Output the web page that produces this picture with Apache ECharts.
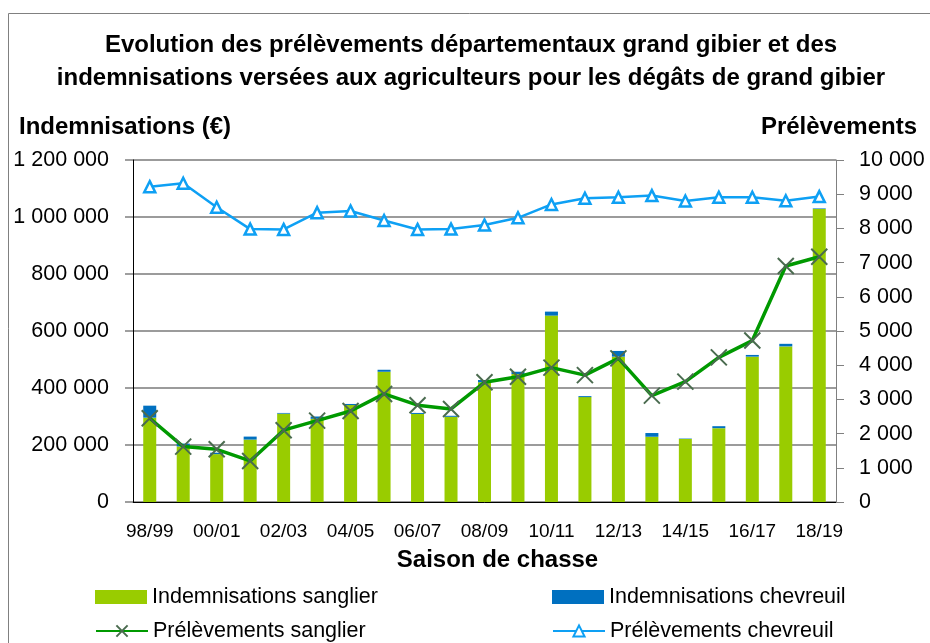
<!DOCTYPE html>
<html>
<head>
<meta charset="utf-8">
<script src="https://cdn.jsdelivr.net/npm/echarts@6/dist/echarts.min.js"></script>
<style>
  html, body { margin: 0; padding: 0; background: #fff; }
  #chart { width: 930px; height: 643px; }
</style>
</head>
<body>
<div id="chart"></div>
<script>
var seasons = ['98/99', '99/00', '00/01', '01/02', '02/03', '03/04', '04/05', '05/06', '06/07', '07/08',
  '08/09', '09/10', '10/11', '11/12', '12/13', '13/14', '14/15', '15/16', '16/17', '17/18', '18/19'];

var indemSanglier = [296000, 195000, 168000, 219000, 310000, 292000, 340000, 457000, 309000, 299000,
  420000, 449000, 654000, 368000, 510000, 229000, 221000, 259000, 510000, 546000, 1028000];
var indemChevreuil = [42000, 10000, 5000, 10500, 2500, 8000, 4000, 7000, 3500, 3500,
  8000, 8000, 14000, 3500, 20000, 13000, 1500, 7000, 6000, 9000, 2000];

var prelSanglier = [2450, 1620, 1540, 1200, 2100, 2380, 2660, 3160, 2830, 2720,
  3500, 3660, 3930, 3710, 4200, 3110, 3520, 4230, 4720, 6900, 7170];
var prelChevreuil = [9220, 9320, 8620, 7980, 7970, 8460, 8510, 8230, 7970, 7980,
  8100, 8310, 8700, 8880, 8910, 8960, 8800, 8910, 8910, 8810, 8930];

var font = "'Liberation Sans', Arial, sans-serif";

function spaced(v) {
  return String(v).replace(/\B(?=(\d{3})+(?!\d))/g, ' ');
}

// une légende par entrée, placées en grille 2 x 2
function legendAt(name, left, top, icon) {
  var lg = {
    left: left, top: top, padding: 0,
    itemWidth: 52, itemHeight: 14, itemGap: 0,
    textStyle: { fontFamily: font, fontSize: 21.5, color: '#000' },
    data: [name]
  };
  if (icon) lg.icon = icon;
  return lg;
}

var chart = echarts.init(document.getElementById('chart'));

var option = {
  animation: false,
  title: {
    text: 'Evolution des prélèvements départementaux grand gibier et des\nindemnisations versées aux agriculteurs pour les dégâts de grand gibier',
    left: 471,
    top: 29,
    padding: 0,
    textAlign: 'center',
    textStyle: { fontFamily: font, fontWeight: 'bold', fontSize: 24, lineHeight: 33, color: '#000' }
  },
  graphic: [
    { type: 'rect', shape: { x: 8.5, y: 13.5, width: 940, height: 650 }, style: { fill: 'none', stroke: '#808080', lineWidth: 1 } },
    { type: 'text', left: 19, top: 115, style: { text: 'Indemnisations (€)', font: 'bold 24px ' + font, fill: '#000' } },
    { type: 'text', right: 13, top: 115, style: { text: 'Prélèvements', font: 'bold 24px ' + font, fill: '#000' } }
  ],
  legend: [
    legendAt('Indemnisations sanglier', 95, 586, 'rect'),
    legendAt('Prélèvements sanglier', 95, 620),
    legendAt('Indemnisations chevreuil', 552, 586, 'rect'),
    legendAt('Prélèvements chevreuil', 552, 620)
  ],
  grid: { left: 133, right: 94, top: 160, bottom: 141 },
  xAxis: {
    type: 'category',
    data: seasons,
    name: 'Saison de chasse',
    nameLocation: 'middle',
    nameGap: 46,
    nameTextStyle: { fontFamily: font, fontWeight: 'bold', fontSize: 24, color: '#000', padding: [0, 0, 0, 26] },
    axisLine: { lineStyle: { color: '#000', width: 1 } },
    axisTick: { interval: 0, length: 7, lineStyle: { color: '#808080' } },
    axisLabel: { interval: 1, fontFamily: font, fontSize: 19, color: '#000', margin: 20 }
  },
  yAxis: [
    {
      type: 'value',
      min: 0, max: 1200000, interval: 200000,
      axisLine: { show: true, lineStyle: { color: '#000', width: 1 } },
      axisTick: { show: true, length: 8, lineStyle: { color: '#808080', width: 1.5 } },
      splitLine: { lineStyle: { color: '#7a7a7a', width: 1.5 } },
      axisLabel: { fontFamily: font, fontSize: 21.5, color: '#000', margin: 24, formatter: spaced }
    },
    {
      type: 'value',
      min: 0, max: 10000, interval: 1000,
      position: 'right',
      axisLine: { show: true, lineStyle: { color: '#808080', width: 1 } },
      axisTick: { show: true, length: 8, lineStyle: { color: '#808080', width: 1 } },
      splitLine: { show: false },
      axisLabel: { fontFamily: font, fontSize: 21.5, color: '#000', margin: 23, formatter: spaced }
    }
  ],
  series: [
    {
      name: 'Indemnisations sanglier', type: 'bar', stack: 'indem', barWidth: 13,
      itemStyle: { color: '#99cc00' },
      data: indemSanglier
    },
    {
      name: 'Indemnisations chevreuil', type: 'bar', stack: 'indem', barWidth: 13,
      itemStyle: { color: '#0070c0' },
      data: indemChevreuil
    },
    {
      name: 'Prélèvements sanglier', type: 'line', yAxisIndex: 1,
      symbol: 'path://M0,0L10,10M10,0L0,10', symbolSize: 16, showAllSymbol: true,
      lineStyle: { color: '#009900', width: 3.5 },
      itemStyle: { color: '#009900', borderColor: '#4a6b4f', borderWidth: 2 },
      data: prelSanglier
    },
    {
      name: 'Prélèvements chevreuil', type: 'line', yAxisIndex: 1,
      symbol: 'triangle', symbolSize: 11, showAllSymbol: true,
      lineStyle: { color: '#0ea0f4', width: 2.5 },
      itemStyle: { color: '#fff', borderColor: '#0ea0f4', borderWidth: 2.5 },
      data: prelChevreuil
    }
  ]
};

chart.setOption(option);
</script>
</body>
</html>
